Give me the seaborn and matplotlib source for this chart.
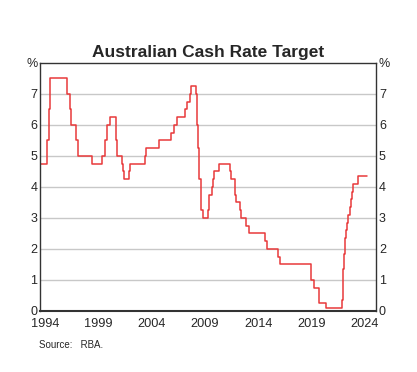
import pandas as pd
import matplotlib
matplotlib.use("Agg")
import matplotlib.pyplot as plt
import matplotlib.dates as mdates
import seaborn as sns

# cash rate target changes (date of change, new rate in %)
change_dates = [
    "1994-01-01", "1994-08-17", "1994-10-24", "1994-12-14", "1996-07-31",
    "1996-11-06", "1996-12-11", "1997-05-23", "1997-07-30", "1998-12-02",
    "1999-11-03", "2000-02-02", "2000-04-05", "2000-05-03", "2000-08-02",
    "2001-02-07", "2001-03-07", "2001-04-04", "2001-09-05", "2001-10-03",
    "2001-12-05", "2002-05-08", "2002-06-05", "2003-11-05", "2003-12-03",
    "2005-03-02", "2006-05-03", "2006-08-02", "2006-11-08", "2007-08-08",
    "2007-11-07", "2008-02-06", "2008-03-05", "2008-09-03", "2008-10-08",
    "2008-11-05", "2008-12-03", "2009-02-04", "2009-04-08", "2009-10-07",
    "2009-11-04", "2009-12-02", "2010-03-03", "2010-04-07", "2010-05-05",
    "2010-11-03", "2011-11-02", "2011-12-07", "2012-05-02", "2012-06-06",
    "2012-10-03", "2012-12-05", "2013-05-08", "2013-08-07", "2015-02-04",
    "2015-05-06", "2016-05-04", "2016-08-03", "2019-06-05", "2019-07-03",
    "2019-10-02", "2020-03-04", "2020-03-20", "2020-11-04", "2022-05-04",
    "2022-06-08", "2022-07-06", "2022-08-03", "2022-09-07", "2022-10-05",
    "2022-11-02", "2022-12-07", "2023-02-08", "2023-03-08", "2023-05-03",
    "2023-06-07", "2023-11-08", "2024-09-15",
]
cash_rate = [
    4.75, 5.50, 6.50, 7.50, 7.00,
    6.50, 6.00, 5.50, 5.00, 4.75,
    5.00, 5.50, 5.75, 6.00, 6.25,
    5.75, 5.50, 5.00, 4.75, 4.50,
    4.25, 4.50, 4.75, 5.00, 5.25,
    5.50, 5.75, 6.00, 6.25, 6.50,
    6.75, 7.00, 7.25, 7.00, 6.00,
    5.25, 4.25, 3.25, 3.00, 3.25,
    3.50, 3.75, 4.00, 4.25, 4.50,
    4.75, 4.50, 4.25, 3.75, 3.50,
    3.25, 3.00, 2.75, 2.50, 2.25,
    2.00, 1.75, 1.50, 1.25, 1.00,
    0.75, 0.50, 0.25, 0.10, 0.35,
    0.85, 1.35, 1.85, 2.35, 2.60,
    2.85, 3.10, 3.35, 3.60, 3.85,
    4.10, 4.35, 4.35,
]
ytick_labels = ["0", "1", "2", "3", "4", "5", "6", "7", "%"]
label_years = [1994, 1999, 2004, 2009, 2014, 2019, 2024]

df = pd.DataFrame({"date": pd.to_datetime(change_dates), "rate": cash_rate})

sns.set_style("white")
plt.rcParams["font.family"] = ["Liberation Sans", "DejaVu Sans"]

fig = plt.figure(figsize=(4.17, 3.72), dpi=100)
ax = fig.add_axes([0.096, 0.164, 0.806, 0.667])

sns.lineplot(data=df, x="date", y="rate", drawstyle="steps-post",
             color="#e8393a", linewidth=1.1, ax=ax)

ax.set_ylim(0, 8)
ax.set_xlim(pd.Timestamp("1994-01-01"), pd.Timestamp("2025-08-01"))
ax.set_xlabel("")
ax.set_ylabel("")

# horizontal gridlines only
for y in range(1, 8):
    ax.axhline(y, color="#c8c8c8", linewidth=1.0, zorder=0)

# y labels on both sides, no tick marks
ax.set_yticks(range(0, 9))
ax.set_yticklabels(ytick_labels)
ax.tick_params(axis="y", length=0, pad=2, labelsize=9,
               left=True, right=True, labelleft=True, labelright=True)

# yearly ticks pointing inward, labels mid-year
ax.xaxis.set_major_locator(mdates.YearLocator(1))
ax.xaxis.set_major_formatter(plt.NullFormatter())
ax.tick_params(axis="x", which="major", direction="in", length=3,
               width=1, color="#333333")
ax.set_xticks([pd.Timestamp(f"{y}-07-01") for y in label_years], minor=True)
ax.set_xticklabels([str(y) for y in label_years], minor=True)
ax.tick_params(axis="x", which="minor", length=0, pad=5, labelsize=9.2)

for side in ["left", "right", "bottom", "top"]:
    ax.spines[side].set_visible(True)
    ax.spines[side].set_color("#333333")
    ax.spines[side].set_linewidth(1.0)
ax.spines["bottom"].set_linewidth(1.5)

fig.text(0.5, 0.847, "Australian Cash Rate Target", ha="center", va="baseline",
         fontsize=12.5, fontweight="bold")
fig.text(0.093, 0.073, "Source:   RBA.", ha="left", va="center", fontsize=7)

fig.savefig("out.png", dpi=100)
